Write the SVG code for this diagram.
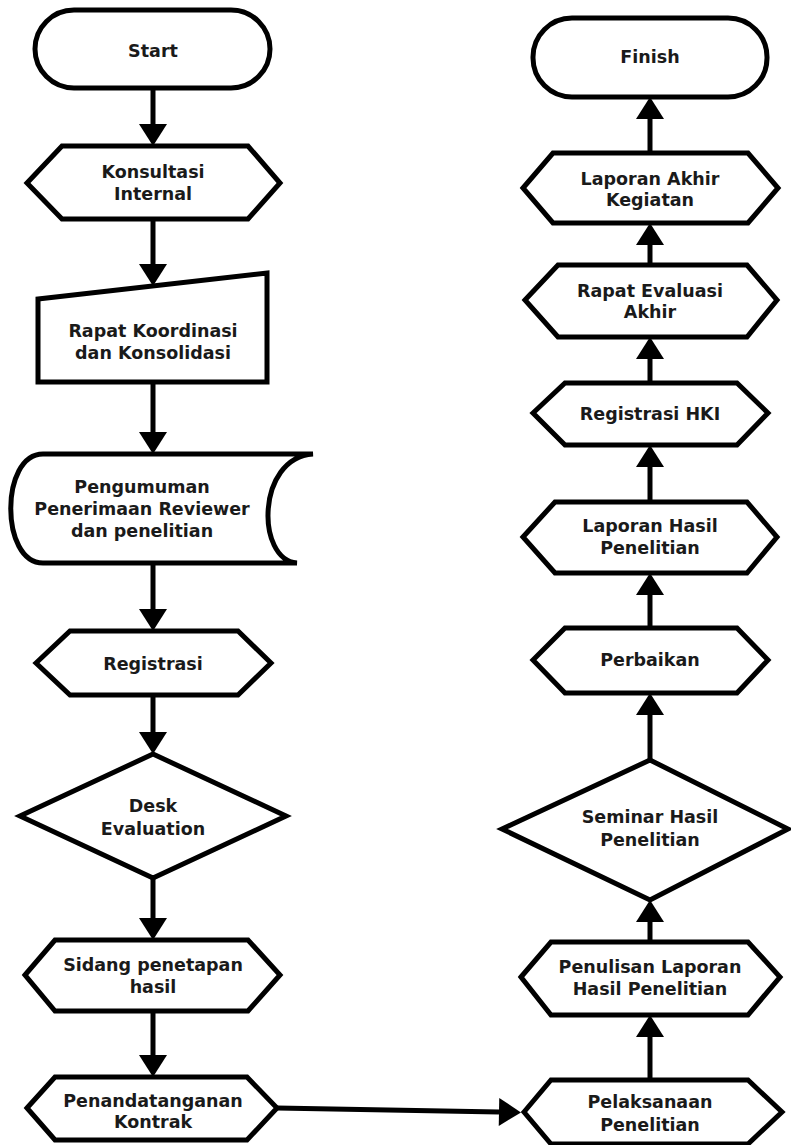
<svg xmlns="http://www.w3.org/2000/svg" width="791" height="1145" viewBox="0 0 791 1145">
<style>
.s{fill:#fff;stroke:#000;stroke-width:5;stroke-linejoin:miter}
.t{font-family:"DejaVu Sans",Verdana,sans-serif;font-weight:bold;font-size:17.5px;fill:#1a1a1a;text-anchor:middle}
.c{fill:none;stroke:#000;stroke-width:5}
</style>
<defs>
<marker id="ah" markerUnits="userSpaceOnUse" markerWidth="22" markerHeight="28" viewBox="0 0 22 28" refX="0" refY="14" orient="auto" overflow="visible">
<path d="M0,0 L22,14 L0,28 Z" fill="#000"/>
</marker>
</defs>
<rect width="791" height="1145" fill="#fff"/>
<g id="connectors">
<line class="c" x1="153" y1="88" x2="153" y2="124" marker-end="url(#ah)"/>
<line class="c" x1="153" y1="219" x2="153" y2="264" marker-end="url(#ah)"/>
<line class="c" x1="153" y1="382" x2="153" y2="432" marker-end="url(#ah)"/>
<line class="c" x1="153" y1="563" x2="153" y2="609" marker-end="url(#ah)"/>
<line class="c" x1="153" y1="695" x2="153" y2="732" marker-end="url(#ah)"/>
<line class="c" x1="153" y1="878" x2="153" y2="918" marker-end="url(#ah)"/>
<line class="c" x1="153" y1="1011" x2="153" y2="1055" marker-end="url(#ah)"/>
<line class="c" x1="277" y1="1108" x2="499" y2="1112" marker-end="url(#ah)"/>
<line class="c" x1="650" y1="1080" x2="650" y2="1037" marker-end="url(#ah)"/>
<line class="c" x1="650" y1="942" x2="650" y2="922" marker-end="url(#ah)"/>
<line class="c" x1="650" y1="760" x2="650" y2="715" marker-end="url(#ah)"/>
<line class="c" x1="650" y1="628" x2="650" y2="595" marker-end="url(#ah)"/>
<line class="c" x1="650" y1="502" x2="650" y2="467" marker-end="url(#ah)"/>
<line class="c" x1="650" y1="383" x2="650" y2="359" marker-end="url(#ah)"/>
<line class="c" x1="650" y1="265" x2="650" y2="245" marker-end="url(#ah)"/>
<line class="c" x1="650" y1="153" x2="650" y2="119" marker-end="url(#ah)"/>
</g>
<g id="start">
<rect class="s" x="35" y="10" width="235" height="78" rx="39"/>
<text class="t" x="153" y="57">Start</text>
</g>
<g id="konsultasi">
<polygon class="s" points="27,183 62,146 248,146 280,183 248,219 62,219"/>
<text class="t" x="153" y="178">Konsultasi</text>
<text class="t" x="153" y="200">Internal</text>
</g>
<g id="rapat-koordinasi">
<polygon class="s" points="38,299 267,273 267,382 38,382"/>
<text class="t" x="153" y="337">Rapat Koordinasi</text>
<text class="t" x="153" y="359">dan Konsolidasi</text>
</g>
<g id="pengumuman">
<path class="s" d="M43,454 L313,454 C256,458 256,560 297,563 L43,563 C0,563 0,454 43,454 Z"/>
<text class="t" x="142" y="493">Pengumuman</text>
<text class="t" x="142" y="515">Penerimaan Reviewer</text>
<text class="t" x="142" y="537">dan penelitian</text>
</g>
<g id="registrasi">
<polygon class="s" points="36,663 70,631 238,631 271,663 238,695 70,695"/>
<text class="t" x="153" y="670">Registrasi</text>
</g>
<g id="desk-evaluation">
<polygon class="s" points="20,816 153,754 286,816 153,878"/>
<text class="t" x="153" y="812">Desk</text>
<text class="t" x="153" y="835">Evaluation</text>
</g>
<g id="sidang">
<polygon class="s" points="25,975 55,940 248,940 280,975 248,1011 55,1011"/>
<text class="t" x="153" y="971">Sidang penetapan</text>
<text class="t" x="153" y="993">hasil</text>
</g>
<g id="penandatanganan">
<polygon class="s" points="27,1108 55,1077 247,1077 277,1108 247,1140 55,1140"/>
<text class="t" x="153" y="1107">Penandatanganan</text>
<text class="t" x="153" y="1128">Kontrak</text>
</g>
<g id="finish">
<rect class="s" x="533" y="18" width="234" height="79" rx="39"/>
<text class="t" x="650" y="63">Finish</text>
</g>
<g id="laporan-akhir">
<polygon class="s" points="523,188 553,153 748,153 778,188 748,223 553,223"/>
<text class="t" x="650" y="185">Laporan Akhir</text>
<text class="t" x="650" y="206">Kegiatan</text>
</g>
<g id="rapat-evaluasi">
<polygon class="s" points="525,300 558,265 747,265 777,300 747,337 558,337"/>
<text class="t" x="650" y="297">Rapat Evaluasi</text>
<text class="t" x="650" y="318">Akhir</text>
</g>
<g id="registrasi-hki">
<polygon class="s" points="533,413 565,383 737,383 768,413 737,445 565,445"/>
<text class="t" x="650" y="420">Registrasi HKI</text>
</g>
<g id="laporan-hasil">
<polygon class="s" points="523,537 555,502 747,502 777,537 747,573 555,573"/>
<text class="t" x="650" y="532">Laporan Hasil</text>
<text class="t" x="650" y="554">Penelitian</text>
</g>
<g id="perbaikan">
<polygon class="s" points="533,660 565,628 737,628 768,660 737,693 565,693"/>
<text class="t" x="650" y="666">Perbaikan</text>
</g>
<g id="seminar">
<polygon class="s" points="502,829 650,760 788,829 650,900"/>
<text class="t" x="650" y="823">Seminar Hasil</text>
<text class="t" x="650" y="846">Penelitian</text>
</g>
<g id="penulisan">
<polygon class="s" points="521,977 551,942 748,942 780,977 748,1015 551,1015"/>
<text class="t" x="650" y="973">Penulisan Laporan</text>
<text class="t" x="650" y="995">Hasil Penelitian</text>
</g>
<g id="pelaksanaan">
<polygon class="s" points="524,1112 551,1080 748,1080 782,1112 748,1144 551,1144"/>
<text class="t" x="650" y="1108">Pelaksanaan</text>
<text class="t" x="650" y="1131">Penelitian</text>
</g>
</svg>
